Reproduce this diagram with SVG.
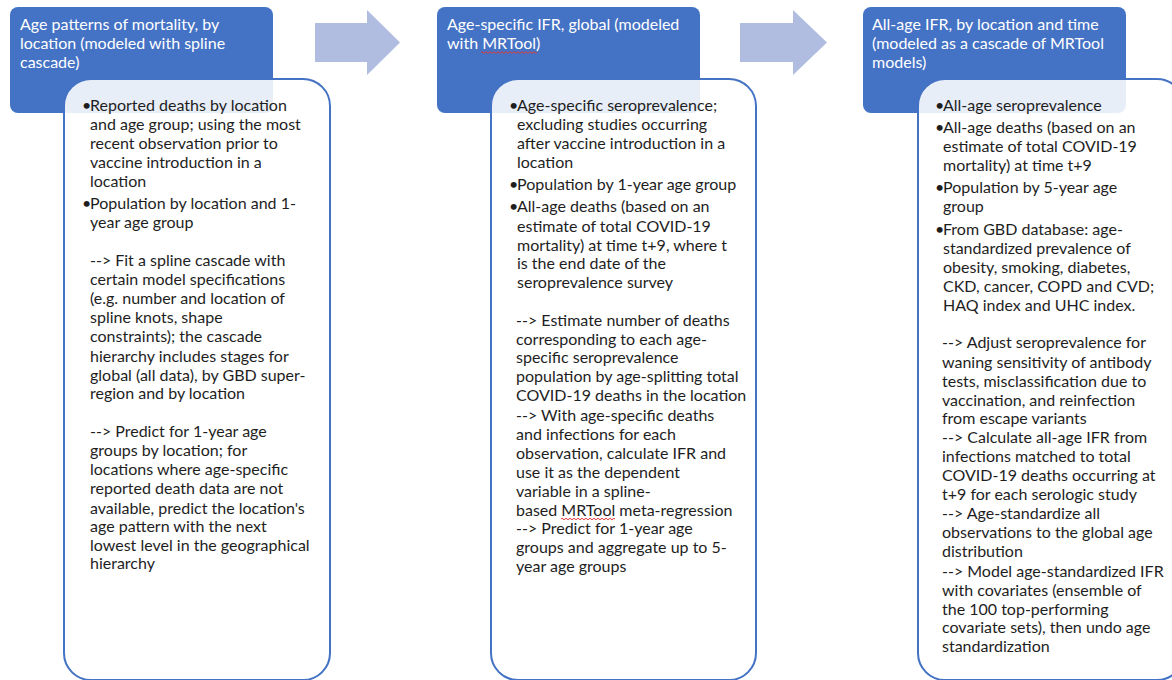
<svg xmlns="http://www.w3.org/2000/svg" width="1172" height="680" viewBox="0 0 1172 680">
<style>
.hdr{fill:#4472C4}
.card{fill:#ffffff;fill-opacity:0.88;stroke:#4472C4;stroke-width:2}
.ht{font-family:Lato,"Liberation Sans",sans-serif;font-size:16px;fill:#ffffff}
.bt{font-family:Lato,"Liberation Sans",sans-serif;font-size:16px;fill:#1e1e1e}
.arrow{fill:#b0bde0}
.spell{fill:none;stroke:#e03c3c;stroke-width:1}
</style>
<rect width="1172" height="680" fill="#ffffff"/>
<g id="connectors">
<polygon class="arrow" points="315,23 367,23 367,10 400,42.5 367,75 367,62 315,62"/>
<polygon class="arrow" points="740,23 793,23 793,10 827,42.5 793,75 793,62 740,62"/>
</g>
<g id="node1">
<rect class="hdr" x="10" y="7" width="263" height="106" rx="8"/>
<text class="ht"><tspan x="20" y="30">Age patterns of mortality, by</tspan><tspan x="20" y="49">location (modeled with spline</tspan><tspan x="20" y="68">cascade)</tspan></text>
<rect class="card" x="64" y="79" width="266" height="601" rx="27"/>
<text class="bt">
<tspan x="82" y="111">•</tspan><tspan x="90" y="111">Reported deaths by location</tspan>
<tspan x="90" y="130">and age group; using the most</tspan>
<tspan x="90" y="149">recent observation prior to</tspan>
<tspan x="90" y="168">vaccine introduction in a</tspan>
<tspan x="90" y="187">location</tspan>
<tspan x="82" y="209">•</tspan><tspan x="90" y="209">Population by location and 1-</tspan>
<tspan x="90" y="228">year age group</tspan>
<tspan x="90" y="266">--&gt; Fit a spline cascade with</tspan>
<tspan x="90" y="285">certain model specifications</tspan>
<tspan x="90" y="304">(e.g. number and location of</tspan>
<tspan x="90" y="323">spline knots, shape</tspan>
<tspan x="90" y="342">constraints); the cascade</tspan>
<tspan x="90" y="362">hierarchy includes stages for</tspan>
<tspan x="90" y="381">global (all data), by GBD super-</tspan>
<tspan x="90" y="399">region and by location</tspan>
<tspan x="90" y="437">--&gt; Predict for 1-year age</tspan>
<tspan x="90" y="456">groups by location; for</tspan>
<tspan x="90" y="475">locations where age-specific</tspan>
<tspan x="90" y="494">reported death data are not</tspan>
<tspan x="90" y="514">available, predict the location's</tspan>
<tspan x="90" y="532">age pattern with the next</tspan>
<tspan x="90" y="551">lowest level in the geographical</tspan>
<tspan x="90" y="569">hierarchy</tspan>
</text>
</g>
<g id="node2">
<rect class="hdr" x="437" y="7" width="263" height="106" rx="8"/>
<text class="ht"><tspan x="447" y="30">Age-specific IFR, global (modeled</tspan><tspan x="447" y="49">with MRTool)</tspan></text>
<path class="spell" d="M481 52.5 q1 -1.5 2 0 t2 0 t2 0 t2 0 t2 0 t2 0 t2 0 t2 0 t2 0 t2 0 t2 0 t2 0 t2 0 t2 0 t2 0 t2 0 t2 0 t2 0 t2 0 t2 0 t2 0 t2 0 t2 0 t2 0 t2 0 t2 0 t2 0 t2 0"/>
<rect class="card" x="491" y="79" width="265" height="601" rx="27"/>
<text class="bt">
<tspan x="509" y="111">•</tspan><tspan x="517" y="111">Age-specific seroprevalence;</tspan>
<tspan x="517" y="130">excluding studies occurring</tspan>
<tspan x="517" y="149">after vaccine introduction in a</tspan>
<tspan x="517" y="168">location</tspan>
<tspan x="509" y="190">•</tspan><tspan x="517" y="190">Population by 1-year age group</tspan>
<tspan x="509" y="212">•</tspan><tspan x="517" y="212">All-age deaths (based on an</tspan>
<tspan x="517" y="232">estimate of total COVID-19</tspan>
<tspan x="517" y="251">mortality) at time t+9, where t</tspan>
<tspan x="517" y="269">is the end date of the</tspan>
<tspan x="517" y="288">seroprevalence survey</tspan>
<tspan x="516" y="326">--&gt; Estimate number of deaths</tspan>
<tspan x="516" y="345">corresponding to each age-</tspan>
<tspan x="516" y="363">specific seroprevalence</tspan>
<tspan x="516" y="382">population by age-splitting total</tspan>
<tspan x="516" y="401">COVID-19 deaths in the location</tspan>
<tspan x="516" y="421">--&gt; With age-specific deaths</tspan>
<tspan x="516" y="440">and infections for each</tspan>
<tspan x="516" y="459">observation, calculate IFR and</tspan>
<tspan x="516" y="478">use it as the dependent</tspan>
<tspan x="516" y="497">variable in a spline-</tspan>
<tspan x="516" y="516">based MRTool meta-regression</tspan>
<tspan x="516" y="534">--&gt; Predict for 1-year age</tspan>
<tspan x="516" y="553">groups and aggregate up to 5-</tspan>
<tspan x="516" y="572">year age groups</tspan>
</text>
<path class="spell" d="M561 519 q1 -1.5 2 0 t2 0 t2 0 t2 0 t2 0 t2 0 t2 0 t2 0 t2 0 t2 0 t2 0 t2 0 t2 0 t2 0 t2 0 t2 0 t2 0 t2 0 t2 0 t2 0 t2 0 t2 0 t2 0 t2 0 t2 0 t2 0 t2 0"/>
</g>
<g id="node3">
<rect class="hdr" x="863" y="7" width="263" height="106" rx="8"/>
<text class="ht"><tspan x="872" y="30">All-age IFR, by location and time</tspan><tspan x="872" y="49">(modeled as a cascade of MRTool</tspan><tspan x="872" y="68">models)</tspan></text>
<rect class="card" x="918" y="79" width="266" height="601" rx="27"/>
<text class="bt">
<tspan x="935" y="111">•</tspan><tspan x="943" y="111">All-age seroprevalence</tspan>
<tspan x="935" y="133">•</tspan><tspan x="943" y="133">All-age deaths (based on an</tspan>
<tspan x="943" y="152">estimate of total COVID-19</tspan>
<tspan x="943" y="171">mortality) at time t+9</tspan>
<tspan x="935" y="193">•</tspan><tspan x="943" y="193">Population by 5-year age</tspan>
<tspan x="943" y="212">group</tspan>
<tspan x="935" y="235">•</tspan><tspan x="943" y="235">From GBD database: age-</tspan>
<tspan x="943" y="254">standardized prevalence of</tspan>
<tspan x="943" y="273">obesity, smoking, diabetes,</tspan>
<tspan x="943" y="292">CKD, cancer, COPD and CVD;</tspan>
<tspan x="943" y="311">HAQ index and UHC index.</tspan>
<tspan x="942" y="348">--&gt; Adjust seroprevalence for</tspan>
<tspan x="942" y="368">waning sensitivity of antibody</tspan>
<tspan x="942" y="387">tests, misclassification due to</tspan>
<tspan x="942" y="406">vaccination, and reinfection</tspan>
<tspan x="942" y="424">from escape variants</tspan>
<tspan x="942" y="443">--&gt; Calculate all-age IFR from</tspan>
<tspan x="942" y="462">infections matched to total</tspan>
<tspan x="942" y="481">COVID-19 deaths occurring at</tspan>
<tspan x="942" y="500">t+9 for each serologic study</tspan>
<tspan x="942" y="519">--&gt; Age-standardize all</tspan>
<tspan x="942" y="538">observations to the global age</tspan>
<tspan x="942" y="557">distribution</tspan>
<tspan x="942" y="577">--&gt; Model age-standardized IFR</tspan>
<tspan x="942" y="596">with covariates (ensemble of</tspan>
<tspan x="942" y="615">the 100 top-performing</tspan>
<tspan x="942" y="633">covariate sets), then undo age</tspan>
<tspan x="942" y="652">standardization</tspan>
</text>
</g>
</svg>
